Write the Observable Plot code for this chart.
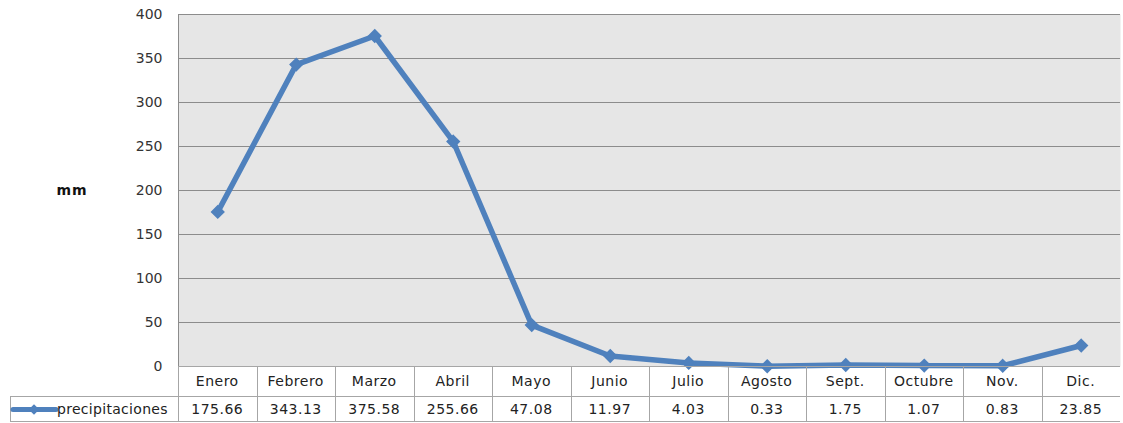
<!DOCTYPE html>
<html><head><meta charset="utf-8">
<script src="https://cdn.jsdelivr.net/npm/d3@7"></script>
<script src="https://cdn.jsdelivr.net/npm/@observablehq/plot@0.6"></script>
<style>
html,body{margin:0;padding:0;background:#fff;}
#chart svg{display:block;}
</style>
</head><body><div id="chart"></div>
<script>
const months = ["Enero","Febrero","Marzo","Abril","Mayo","Junio","Julio","Agosto","Sept.","Octubre","Nov.","Dic."];
const precip = [175.66,343.13,375.58,255.66,47.08,11.97,4.03,0.33,1.75,1.07,0.83,23.85];
const valueLabels = ["175.66","343.13","375.58","255.66","47.08","11.97","4.03","0.33","1.75","1.07","0.83","23.85"];
const yTicks = [0,50,100,150,200,250,300,350,400];
const seriesName = "precipitaciones";
const yLabel = "mm";

const data = months.map((m, i) => ({month: m, value: precip[i], label: valueLabels[i]}));

const blue = "#4f81bd";
const font = "'DejaVu Sans', sans-serif";

const plot = Plot.plot({
  width: 1123,
  height: 423,
  marginLeft: 178,
  marginRight: 3,
  marginTop: 14,
  marginBottom: 57,
  style: {fontFamily: font, fontSize: "14px", color: "#333", background: "#fff", overflow: "visible"},
  x: {type: "band", domain: months, padding: 0, round: false, axis: null},
  y: {domain: [0, 400], ticks: yTicks, tickSize: 0, tickPadding: 16, label: null},
  marks: [
    Plot.frame({fill: "#e6e6e6", stroke: "none"}),
    Plot.ruleY(yTicks, {stroke: "#8c8c8c", strokeWidth: 1}),
    Plot.line(data, {x: "month", y: "value", stroke: blue, strokeWidth: 5.5, strokeLinejoin: "miter"}),
    Plot.dot(data, {x: "month", y: "value", symbol: "diamond2", fill: blue, stroke: blue, r: 5.5})
  ]
});

document.getElementById("chart").appendChild(plot);

// Data table and y label, positioned with the plot's own scales
const svg = d3.select(plot);
const xs = plot.scale("x");
const ys = plot.scale("y");
const bw = xs.bandwidth;
const x0 = xs.range[0];
const x1 = xs.range[1];
const yBase = ys.apply(0);
const row1Top = yBase, row1Bot = yBase + 30, row2Bot = yBase + 55;
const tableLeft = 10;
const border = "#a6a6a6";

const g = svg.append("g").attr("shape-rendering", "crispEdges");
// left border of plot area
g.append("line").attr("x1", x0 + 0.5).attr("x2", x0 + 0.5).attr("y1", ys.apply(400)).attr("y2", yBase)
  .attr("stroke", "#8c8c8c");
// horizontal table lines
g.append("line").attr("x1", x0).attr("x2", x1).attr("y1", row1Top + 0.5).attr("y2", row1Top + 0.5).attr("stroke", border);
g.append("line").attr("x1", tableLeft).attr("x2", x1).attr("y1", row1Bot + 0.5).attr("y2", row1Bot + 0.5).attr("stroke", border);
g.append("line").attr("x1", tableLeft).attr("x2", x1).attr("y1", row2Bot + 0.5).attr("y2", row2Bot + 0.5).attr("stroke", border);
g.append("line").attr("x1", tableLeft + 0.5).attr("x2", tableLeft + 0.5).attr("y1", row1Bot).attr("y2", row2Bot).attr("stroke", border);
// vertical cell lines
months.forEach((m, i) => {
  const xl = Math.round(xs.apply(m)) + 0.5;
  g.append("line").attr("x1", xl).attr("x2", xl).attr("y1", row1Top).attr("y2", row2Bot).attr("stroke", border);
});

const tg = svg.append("g").attr("font-family", font).attr("font-size", 14).attr("fill", "#222")
  .attr("text-anchor", "middle").attr("letter-spacing", "0.5px");
data.forEach(d => {
  const cx = xs.apply(d.month) + bw / 2;
  tg.append("text").attr("x", cx).attr("y", (row1Top + row1Bot) / 2).attr("dy", "0.35em").text(d.month);
  tg.append("text").attr("x", cx).attr("y", (row1Bot + row2Bot) / 2 + 1).attr("dy", "0.35em").text(d.label);
});

// legend key in the table
const ky = (row1Bot + row2Bot) / 2 + 1;
svg.append("line").attr("x1", 13).attr("x2", 56).attr("y1", ky).attr("y2", ky)
  .attr("stroke", blue).attr("stroke-width", 5).attr("stroke-linecap", "round");
svg.append("path").attr("d", d3.symbol(d3.symbolDiamond2, 70)()).attr("transform", `translate(34,${ky})`).attr("fill", blue);
svg.append("text").attr("x", 57).attr("y", ky).attr("dy", "0.35em").attr("text-anchor", "start")
  .attr("font-family", font).attr("font-size", 14)
  .attr("fill", "#222").attr("letter-spacing", "0.3px").text(seriesName);

// y label
svg.append("text").attr("x", 72).attr("y", ys.apply(200)).attr("dy", "0.35em").attr("text-anchor", "middle")
  .attr("font-family", font).attr("font-size", 14).attr("font-weight", "bold").attr("letter-spacing", "1px")
  .attr("fill", "#111").text(yLabel);
</script>
</body></html>
